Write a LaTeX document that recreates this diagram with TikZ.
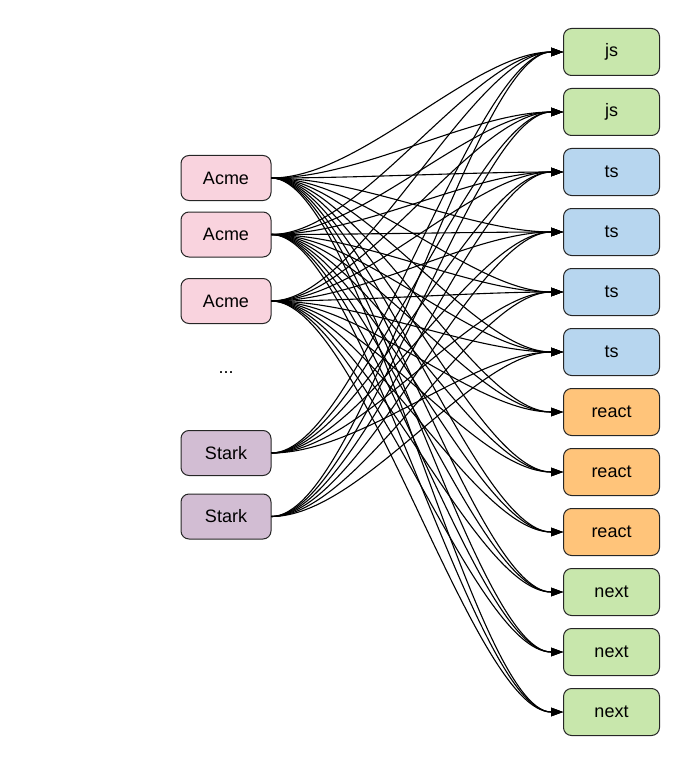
\documentclass[tikz,border=0pt]{standalone}
\usepackage{fontspec}
\setmainfont{Liberation Sans}
\usepackage{tikz}
\usetikzlibrary{arrows.meta,positioning}

\definecolor{acmepink}{RGB}{249,211,222}
\definecolor{starkpurple}{RGB}{210,189,211}
\definecolor{jsgreen}{RGB}{200,231,172}
\definecolor{tsblue}{RGB}{183,214,239}
\definecolor{reactorange}{RGB}{255,196,122}

\begin{document}
\begin{tikzpicture}[
    x=1pt, y=-1pt,
    node distance=12pt,
    base/.style={draw=black!85, line width=1pt, rounded corners=8pt, align=center, font=\fontsize{18}{21}\selectfont},
    org/.style={base, minimum width=90pt, minimum height=45pt},
    pkg/.style={base, minimum width=96pt, minimum height=47pt},
    acme/.style={org, fill=acmepink},
    stark/.style={org, fill=starkpurple},
    js/.style={pkg, fill=jsgreen},
    ts/.style={pkg, fill=tsblue},
    react/.style={pkg, fill=reactorange},
    link/.style={-{Triangle[length=12pt,width=8.5pt]}, line width=1.1pt, black}
]
\useasboundingbox (0,0) rectangle (689,762);
% orgs
\node (org1) [acme] at (226,178) {Acme};
\node (org2) [acme] at (226,234.5) {Acme};
\node (org3) [acme] at (226,301) {Acme};
\node (dots) [font=\fontsize{18}{21}\selectfont] at (226,373) {...};
\node (org4) [stark] at (226,453) {Stark};
\node (org5) [stark] at (226,516.5) {Stark};
% packages
\node (pkg1) [js] at (611.5,52) {js};
\node (pkg2) [js, below=of pkg1] {js};
\node (pkg3) [ts, below=of pkg2] {ts};
\node (pkg4) [ts, below=of pkg3] {ts};
\node (pkg5) [ts, below=of pkg4] {ts};
\node (pkg6) [ts, below=of pkg5] {ts};
\node (pkg7) [react, below=of pkg6] {react};
\node (pkg8) [react, below=of pkg7] {react};
\node (pkg9) [react, below=of pkg8] {react};
\node (pkg10) [js, below=of pkg9] {next};
\node (pkg11) [js, below=of pkg10] {next};
\node (pkg12) [js, below=of pkg11] {next};
% Acme uses every package, Stark only js and ts
\foreach \o in {1,2,3}
  \foreach \p in {1,...,12}
    \draw [link] (org\o.east) .. controls +(90,0) and +(-90,0) .. (pkg\p.west);
\foreach \o in {4,5}
  \foreach \p in {1,...,6}
    \draw [link] (org\o.east) .. controls +(90,0) and +(-90,0) .. (pkg\p.west);
\end{tikzpicture}
\end{document}
